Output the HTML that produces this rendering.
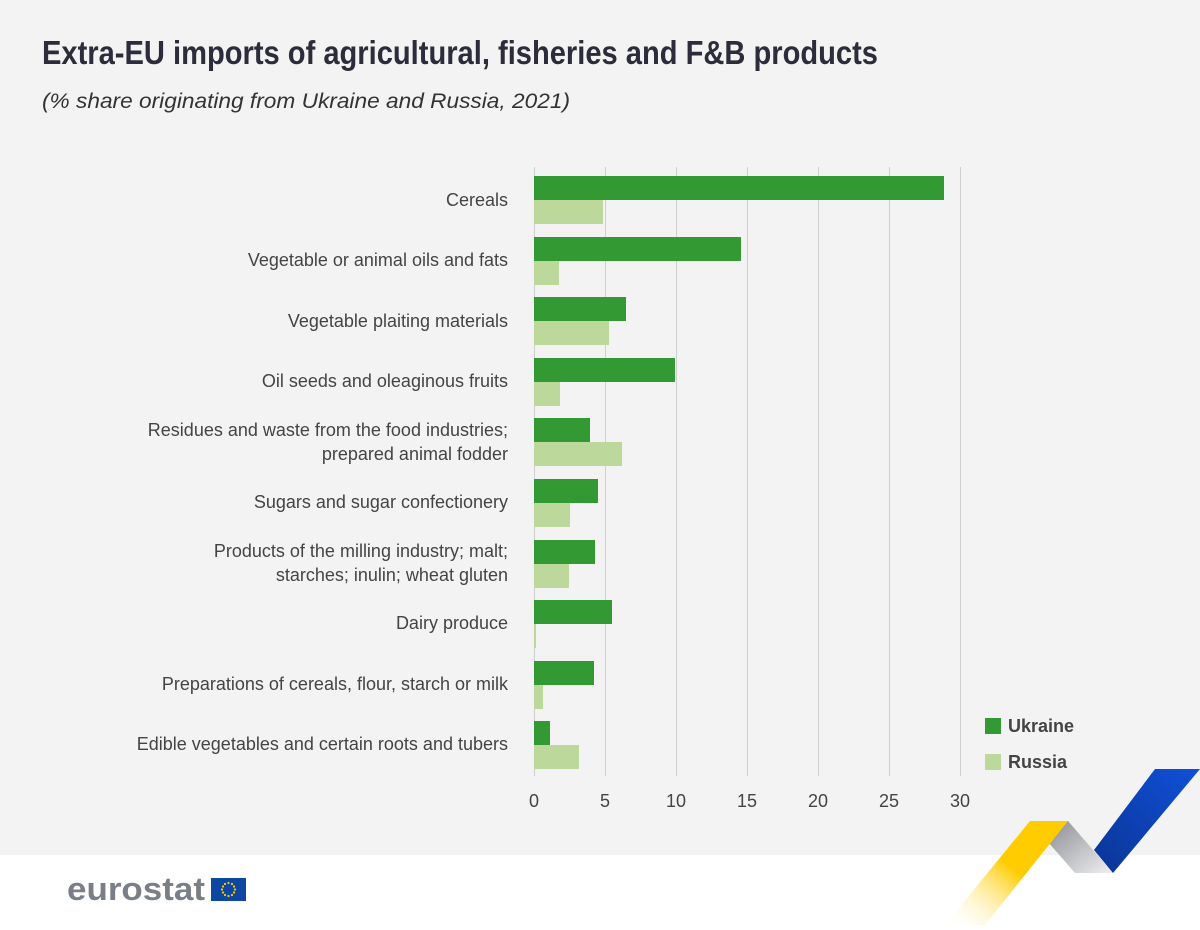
<!DOCTYPE html>
<html><head><meta charset="utf-8"><style>
body{margin:0;width:1200px;height:925px;overflow:hidden;background:#fff;font-family:"Liberation Sans",sans-serif}
</style></head><body>
<svg width="1200" height="925" xmlns="http://www.w3.org/2000/svg">
<defs>
<linearGradient id="yg" x1="1" y1="0" x2="0" y2="1"><stop offset="0.45" stop-color="#ffcc00"/><stop offset="1" stop-color="#fff" stop-opacity="0"/></linearGradient>
<linearGradient id="gg" x1="0" y1="0" x2="1" y2="1"><stop offset="0" stop-color="#8a8d94"/><stop offset="1" stop-color="#f0f0f0"/></linearGradient>
<linearGradient id="bg" x1="1" y1="0" x2="0" y2="1"><stop offset="0" stop-color="#1050d8"/><stop offset="1" stop-color="#0a3595"/></linearGradient>
</defs>
<rect x="0" y="0" width="1200" height="855" fill="#f3f3f3"/>
<text x="42" y="64" font-size="33" font-weight="bold" fill="#2c2c3a" textLength="836" lengthAdjust="spacingAndGlyphs">Extra-EU imports of agricultural, fisheries and F&amp;B products</text>
<text x="42" y="108" font-size="21" font-style="italic" fill="#333" textLength="528" lengthAdjust="spacingAndGlyphs">(% share originating from Ukraine and Russia, 2021)</text>
<g stroke="#cfcfcf" stroke-width="1">
<line x1="534.5" y1="167" x2="534.5" y2="776"/><line x1="605.5" y1="167" x2="605.5" y2="776"/><line x1="676.5" y1="167" x2="676.5" y2="776"/><line x1="747.5" y1="167" x2="747.5" y2="776"/><line x1="818.5" y1="167" x2="818.5" y2="776"/><line x1="889.5" y1="167" x2="889.5" y2="776"/><line x1="960.5" y1="167" x2="960.5" y2="776"/>
</g>
<g font-size="18" fill="#444" text-anchor="middle">
<text x="534" y="807">0</text><text x="605" y="807">5</text><text x="676" y="807">10</text><text x="747" y="807">15</text><text x="818" y="807">20</text><text x="889" y="807">25</text><text x="960" y="807">30</text>
</g>
<g fill="#339933">
<rect x="534" y="176" width="410" height="24"/>
<rect x="534" y="237" width="207" height="24"/>
<rect x="534" y="297" width="92" height="24"/>
<rect x="534" y="358" width="141" height="24"/>
<rect x="534" y="418" width="56" height="24"/>
<rect x="534" y="479" width="64" height="24"/>
<rect x="534" y="540" width="61" height="24"/>
<rect x="534" y="600" width="78" height="24"/>
<rect x="534" y="661" width="60" height="24"/>
<rect x="534" y="721" width="16" height="24"/>
</g>
<g fill="#bdd89b">
<rect x="534" y="200" width="69" height="24"/>
<rect x="534" y="261" width="25" height="24"/>
<rect x="534" y="321" width="75" height="24"/>
<rect x="534" y="382" width="26" height="24"/>
<rect x="534" y="442" width="88" height="24"/>
<rect x="534" y="503" width="36" height="24"/>
<rect x="534" y="564" width="35" height="24"/>
<rect x="534" y="624" width="2" height="24"/>
<rect x="534" y="685" width="9" height="24"/>
<rect x="534" y="745" width="45" height="24"/>
</g>
<g font-size="18" fill="#444" text-anchor="end">
<text x="508" y="206">Cereals</text>
<text x="508" y="266">Vegetable or animal oils and fats</text>
<text x="508" y="327">Vegetable plaiting materials</text>
<text x="508" y="387">Oil seeds and oleaginous fruits</text>
<text x="508" y="436">Residues and waste from the food industries;</text>
<text x="508" y="460">prepared animal fodder</text>
<text x="508" y="508">Sugars and sugar confectionery</text>
<text x="508" y="557">Products of the milling industry; malt;</text>
<text x="508" y="581">starches; inulin; wheat gluten</text>
<text x="508" y="629">Dairy produce</text>
<text x="508" y="690">Preparations of cereals, flour, starch or milk</text>
<text x="508" y="750">Edible vegetables and certain roots and tubers</text>
</g>
<rect x="985" y="718" width="16" height="16" fill="#339933"/>
<rect x="985" y="754" width="16" height="16" fill="#bdd89b"/>
<text x="1008" y="732" font-size="18" font-weight="bold" fill="#444">Ukraine</text>
<text x="1008" y="768" font-size="18" font-weight="bold" fill="#444">Russia</text>
<polygon points="1050,821 1068,821 1113,873 1075,873 1048,842" fill="url(#gg)"/>
<polygon points="1030,821 1068,821 985,925 945,925" fill="url(#yg)"/>
<polygon points="1155,769 1200,769 1113,873 1094,850" fill="url(#bg)"/>
<text x="67" y="900" font-size="32" font-weight="bold" fill="#7a7f87" textLength="138" lengthAdjust="spacingAndGlyphs">eurostat</text>
<rect x="211" y="878" width="35" height="23" fill="#0e47a1"/>
<g fill="#ffcc00">
<circle cx="228.5" cy="883" r="1.1"/><circle cx="228.5" cy="896" r="1.1"/><circle cx="222" cy="889.5" r="1.1"/><circle cx="235" cy="889.5" r="1.1"/>
<circle cx="232" cy="884" r="1.1"/><circle cx="234" cy="886.5" r="1.1"/><circle cx="234" cy="892.5" r="1.1"/><circle cx="232" cy="895" r="1.1"/>
<circle cx="225" cy="884" r="1.1"/><circle cx="223" cy="886.5" r="1.1"/><circle cx="223" cy="892.5" r="1.1"/><circle cx="225" cy="895" r="1.1"/>
</g>
</svg>
</body></html>
